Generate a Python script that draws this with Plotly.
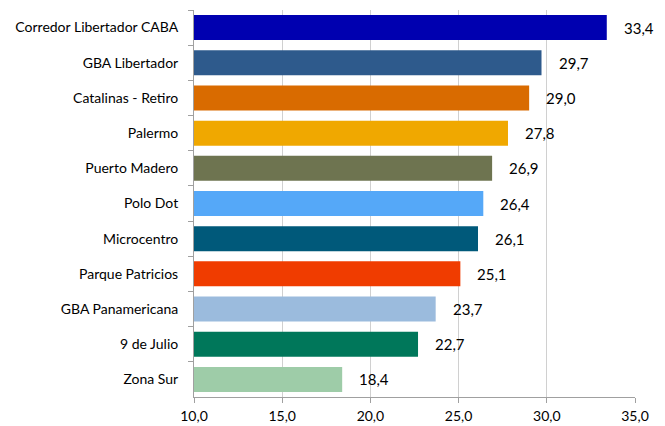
import plotly.graph_objects as go

categories = ["Corredor Libertador CABA", "GBA Libertador", "Catalinas - Retiro", "Palermo",
              "Puerto Madero", "Polo Dot", "Microcentro", "Parque Patricios",
              "GBA Panamericana", "9 de Julio", "Zona Sur"]
values = [33.4, 29.7, 29.0, 27.8, 26.9, 26.4, 26.1, 25.1, 23.7, 22.7, 18.4]
colors = ["#0000B0", "#2E5A8C", "#D96B00", "#F0A800", "#6E7450", "#55A8F8",
          "#00597A", "#F03C00", "#9BBBDD", "#00775A", "#9ECCA8"]
x_ticks = [10, 15, 20, 25, 30, 35]

font = "Lato, Open Sans, sans-serif"

fig = go.Figure()
fig.add_trace(go.Bar(
    x=values, y=categories, orientation="h",
    marker=dict(color=colors, line=dict(width=0)),
    width=0.71,
    hoverinfo="x+y",
))

for v, c in zip(values, categories):
    fig.add_annotation(x=v, y=c, text=f"{v:.1f}".replace(".", ","),
                       xanchor="left", yanchor="middle", xshift=15, showarrow=False,
                       font=dict(family=font, size=15, color="#000000"))

fig.update_layout(
    width=665, height=426,
    margin=dict(l=194, r=30, t=10, b=29),
    paper_bgcolor="white", plot_bgcolor="white",
    separators=",.",
    showlegend=False,
    font=dict(family=font, size=14, color="#000000"),
    xaxis=dict(range=[10, 35], tickvals=x_ticks, tickformat=".1f", automargin=False,
               showgrid=True, gridcolor="#D0D0D0", gridwidth=1,
               showline=True, linecolor="#A0A0A0", linewidth=1,
               ticks="outside", ticklen=5, tickcolor="#A0A0A0",
               zeroline=False, tickfont=dict(family=font, size=14), ticklabelstandoff=1),
    yaxis=dict(autorange="reversed", showline=True, linecolor="#A0A0A0", linewidth=1,
               automargin=False,
               ticks="outside", ticklen=5, tickcolor="#A0A0A0", tickson="boundaries",
               showgrid=False, tickfont=dict(family=font, size=14), ticklabelstandoff=12),
)

fig.write_html("out.html")
